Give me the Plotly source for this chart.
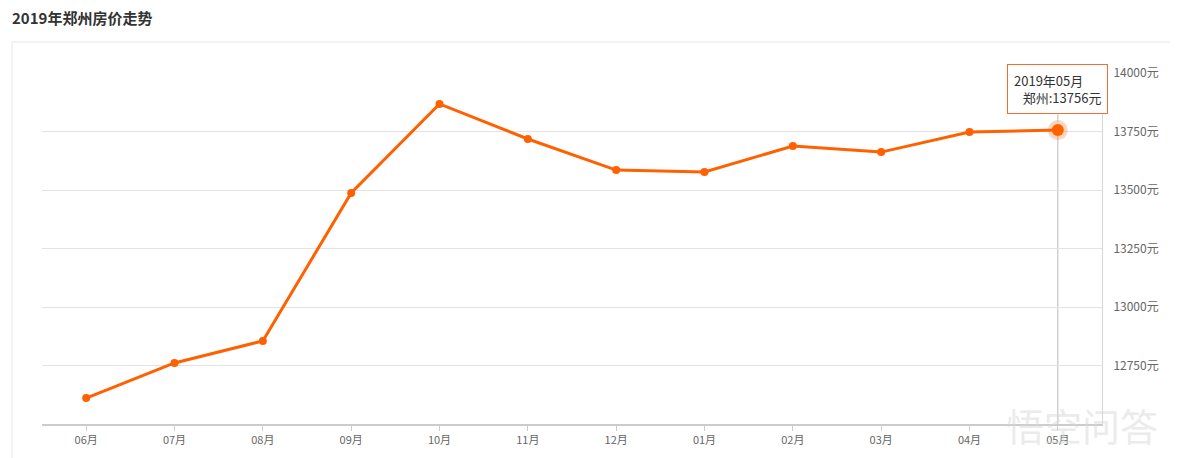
import plotly.graph_objects as go

# data
months = ["06月", "07月", "08月", "09月", "10月", "11月", "12月",
          "01月", "02月", "03月", "04月", "05月"]
prices = [12611, 12761, 12855, 13487, 13868, 13718, 13585,
          13577, 13688, 13662, 13748, 13756]
y_ticks = [12750, 13000, 13250, 13500, 13750, 14000]
title_text = "2019年郑州房价走势"
tip_month = "2019年05月"
city = "郑州"

orange = "#ff6000"
font_fam = "Noto Sans CJK SC, Noto Sans, sans-serif"

fig = go.Figure()

fig.add_trace(go.Scatter(
    x=months, y=prices, mode="lines+markers",
    line=dict(color=orange, width=3),
    marker=dict(color=orange, size=8),
    hoverinfo="skip", showlegend=False,
))

# highlighted last point with halo
fig.add_trace(go.Scatter(
    x=[months[-1]], y=[prices[-1]], mode="markers",
    marker=dict(color="rgba(255,96,0,0.25)", size=20),
    hoverinfo="skip", showlegend=False,
))
fig.add_trace(go.Scatter(
    x=[months[-1]], y=[prices[-1]], mode="markers",
    marker=dict(color=orange, size=12),
    hoverinfo="skip", showlegend=False,
))

# crosshair line under the tooltip
fig.add_shape(type="line", xref="x", yref="y",
              x0=months[-1], x1=months[-1], y0=12500, y1=prices[-1],
              line=dict(color="#bbbbbb", width=1), layer="below")

# card border
fig.add_shape(type="line", xref="paper", yref="paper",
              x0=-0.0283, x1=1.1, y0=1.0883, y1=1.0883,
              line=dict(color="#e6e6e6", width=1))
fig.add_shape(type="line", xref="paper", yref="paper",
              x0=-0.0283, x1=-0.0283, y0=-0.2, y1=1.0883,
              line=dict(color="#e6e6e6", width=1))

# tooltip
fig.add_annotation(
    x=months[-1], y=prices[-1], xref="x", yref="y",
    text=f"{tip_month}<br>&nbsp;&nbsp;&nbsp;{city}:{prices[-1]}元",
    align="left", showarrow=True, arrowhead=0, arrowcolor="#bbbbbb",
    arrowwidth=1, ax=0, ay=-41, standoff=8,
    bgcolor="white", bordercolor="#f07030", borderwidth=1, borderpad=6,
    font=dict(family=font_fam, size=13, color="#333333"),
)

# watermark
fig.add_annotation(
    x=1.0547, y=0.0, xref="paper", yref="paper", xanchor="right",
    yanchor="middle", text="悟空问答", showarrow=False,
    font=dict(family=font_fam, size=38, color="rgba(215,215,215,0.5)"),
)

fig.update_layout(
    width=1170, height=450,
    margin=dict(l=34, r=76, t=65, b=34),
    paper_bgcolor="white", plot_bgcolor="white",
    font=dict(family=font_fam, size=11, color="#666666"),
    title=dict(text=f"<b>{title_text}</b>", x=4 / 1170, xanchor="left",
               y=1 - 11 / 450, yanchor="middle",
               font=dict(family=font_fam, size=15, color="#333333")),
    xaxis=dict(
        type="category", range=[-0.5, 11.5], showgrid=False,
        showline=True, linecolor="#cccccc", linewidth=2,
        ticks="outside", ticklen=5, tickcolor="#cccccc",
        tickfont=dict(size=11, color="#666666"), fixedrange=True,
    ),
    yaxis=dict(
        side="right", range=[12500, 14000], tickvals=y_ticks,
        ticktext=[f"{v}元" for v in y_ticks],
        showgrid=True, gridcolor="#e3e3e3", gridwidth=1,
        showline=True, linecolor="#d6d6d6", linewidth=1,
        ticks="outside", ticklen=8, tickcolor="rgba(0,0,0,0)",
        tickfont=dict(size=12, color="#666666"), zeroline=False,
        fixedrange=True,
    ),
)

fig.write_html("out.html")
